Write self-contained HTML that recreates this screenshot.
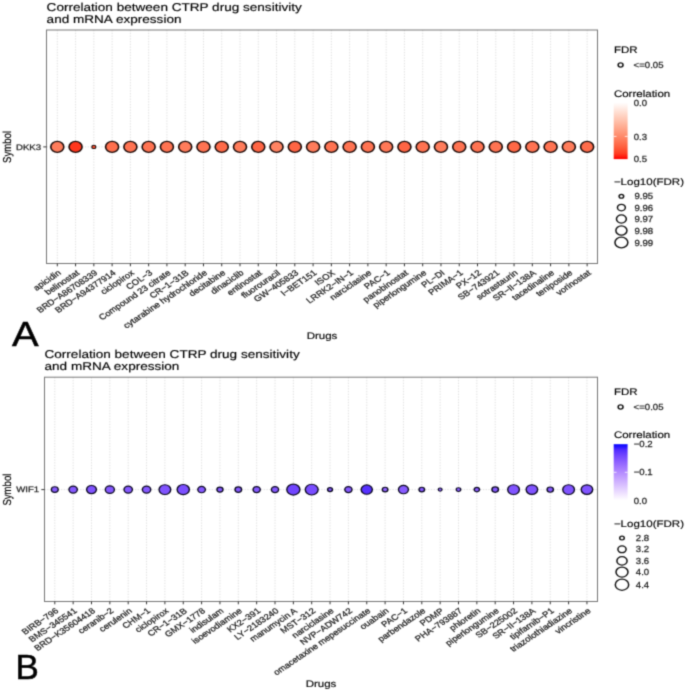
<!DOCTYPE html>
<html><head><meta charset="utf-8"><style>
html,body{margin:0;padding:0;background:#fff;width:685px;height:691px;overflow:hidden}
svg{display:block}
text{text-rendering:geometricPrecision}
.tk{stroke:#222;stroke-width:0.25px}
.tt{stroke:#000;stroke-width:0.15px}
text{font-family:"Liberation Sans", sans-serif}
</style></head><body>
<svg width="685" height="691" viewBox="0 0 685 691">
<defs><filter id="bl" filterUnits="userSpaceOnUse" x="0" y="0" width="685" height="691" color-interpolation-filters="sRGB"><feConvolveMatrix order="3" kernelMatrix="1 4 1 4 16 4 1 4 1" divisor="36" edgeMode="duplicate"/></filter></defs>
<g filter="url(#bl)">
<rect width="685" height="691" fill="#fff"/>
<text class="tt" transform="translate(46.60,10.80) scale(1.2,1)" font-size="11.3" fill="#000" text-anchor="start">Correlation between CTRP drug sensitivity</text>
<text class="tt" transform="translate(46.60,23.40) scale(1.2,1)" font-size="11.3" fill="#000" text-anchor="start">and mRNA expression</text>
<line x1="57.30" y1="30.0" x2="57.30" y2="263.5" stroke="#dcdcdc" stroke-width="0.9" stroke-dasharray="1.37,1.37"/>
<line x1="75.57" y1="30.0" x2="75.57" y2="263.5" stroke="#dcdcdc" stroke-width="0.9" stroke-dasharray="1.37,1.37"/>
<line x1="93.84" y1="30.0" x2="93.84" y2="263.5" stroke="#dcdcdc" stroke-width="0.9" stroke-dasharray="1.37,1.37"/>
<line x1="112.11" y1="30.0" x2="112.11" y2="263.5" stroke="#dcdcdc" stroke-width="0.9" stroke-dasharray="1.37,1.37"/>
<line x1="130.38" y1="30.0" x2="130.38" y2="263.5" stroke="#dcdcdc" stroke-width="0.9" stroke-dasharray="1.37,1.37"/>
<line x1="148.65" y1="30.0" x2="148.65" y2="263.5" stroke="#dcdcdc" stroke-width="0.9" stroke-dasharray="1.37,1.37"/>
<line x1="166.92" y1="30.0" x2="166.92" y2="263.5" stroke="#dcdcdc" stroke-width="0.9" stroke-dasharray="1.37,1.37"/>
<line x1="185.19" y1="30.0" x2="185.19" y2="263.5" stroke="#dcdcdc" stroke-width="0.9" stroke-dasharray="1.37,1.37"/>
<line x1="203.46" y1="30.0" x2="203.46" y2="263.5" stroke="#dcdcdc" stroke-width="0.9" stroke-dasharray="1.37,1.37"/>
<line x1="221.73" y1="30.0" x2="221.73" y2="263.5" stroke="#dcdcdc" stroke-width="0.9" stroke-dasharray="1.37,1.37"/>
<line x1="240.00" y1="30.0" x2="240.00" y2="263.5" stroke="#dcdcdc" stroke-width="0.9" stroke-dasharray="1.37,1.37"/>
<line x1="258.27" y1="30.0" x2="258.27" y2="263.5" stroke="#dcdcdc" stroke-width="0.9" stroke-dasharray="1.37,1.37"/>
<line x1="276.54" y1="30.0" x2="276.54" y2="263.5" stroke="#dcdcdc" stroke-width="0.9" stroke-dasharray="1.37,1.37"/>
<line x1="294.81" y1="30.0" x2="294.81" y2="263.5" stroke="#dcdcdc" stroke-width="0.9" stroke-dasharray="1.37,1.37"/>
<line x1="313.08" y1="30.0" x2="313.08" y2="263.5" stroke="#dcdcdc" stroke-width="0.9" stroke-dasharray="1.37,1.37"/>
<line x1="331.35" y1="30.0" x2="331.35" y2="263.5" stroke="#dcdcdc" stroke-width="0.9" stroke-dasharray="1.37,1.37"/>
<line x1="349.62" y1="30.0" x2="349.62" y2="263.5" stroke="#dcdcdc" stroke-width="0.9" stroke-dasharray="1.37,1.37"/>
<line x1="367.89" y1="30.0" x2="367.89" y2="263.5" stroke="#dcdcdc" stroke-width="0.9" stroke-dasharray="1.37,1.37"/>
<line x1="386.16" y1="30.0" x2="386.16" y2="263.5" stroke="#dcdcdc" stroke-width="0.9" stroke-dasharray="1.37,1.37"/>
<line x1="404.43" y1="30.0" x2="404.43" y2="263.5" stroke="#dcdcdc" stroke-width="0.9" stroke-dasharray="1.37,1.37"/>
<line x1="422.70" y1="30.0" x2="422.70" y2="263.5" stroke="#dcdcdc" stroke-width="0.9" stroke-dasharray="1.37,1.37"/>
<line x1="440.97" y1="30.0" x2="440.97" y2="263.5" stroke="#dcdcdc" stroke-width="0.9" stroke-dasharray="1.37,1.37"/>
<line x1="459.24" y1="30.0" x2="459.24" y2="263.5" stroke="#dcdcdc" stroke-width="0.9" stroke-dasharray="1.37,1.37"/>
<line x1="477.51" y1="30.0" x2="477.51" y2="263.5" stroke="#dcdcdc" stroke-width="0.9" stroke-dasharray="1.37,1.37"/>
<line x1="495.78" y1="30.0" x2="495.78" y2="263.5" stroke="#dcdcdc" stroke-width="0.9" stroke-dasharray="1.37,1.37"/>
<line x1="514.05" y1="30.0" x2="514.05" y2="263.5" stroke="#dcdcdc" stroke-width="0.9" stroke-dasharray="1.37,1.37"/>
<line x1="532.32" y1="30.0" x2="532.32" y2="263.5" stroke="#dcdcdc" stroke-width="0.9" stroke-dasharray="1.37,1.37"/>
<line x1="550.59" y1="30.0" x2="550.59" y2="263.5" stroke="#dcdcdc" stroke-width="0.9" stroke-dasharray="1.37,1.37"/>
<line x1="568.86" y1="30.0" x2="568.86" y2="263.5" stroke="#dcdcdc" stroke-width="0.9" stroke-dasharray="1.37,1.37"/>
<line x1="587.13" y1="30.0" x2="587.13" y2="263.5" stroke="#dcdcdc" stroke-width="0.9" stroke-dasharray="1.37,1.37"/>
<line x1="46.5" y1="146.9" x2="597.5" y2="146.9" stroke="#dcdcdc" stroke-width="0.9" stroke-dasharray="1.37,1.37"/>
<circle transform="translate(57.30,146.90) scale(1.2,1)" r="5.43" fill="#ff7c5b" stroke="#1a0a08" stroke-width="1.3"/>
<circle transform="translate(75.57,146.90) scale(1.2,1)" r="5.43" fill="#ff361c" stroke="#1a0a08" stroke-width="1.3"/>
<circle transform="translate(93.84,146.90) scale(1.2,1)" r="1.67" fill="#ff4d2e" stroke="#1a0a08" stroke-width="1.0"/>
<circle transform="translate(112.11,146.90) scale(1.2,1)" r="5.43" fill="#ff6f4d" stroke="#1a0a08" stroke-width="1.3"/>
<circle transform="translate(130.38,146.90) scale(1.2,1)" r="5.43" fill="#ff7352" stroke="#1a0a08" stroke-width="1.3"/>
<circle transform="translate(148.65,146.90) scale(1.2,1)" r="5.43" fill="#ff7352" stroke="#1a0a08" stroke-width="1.3"/>
<circle transform="translate(166.92,146.90) scale(1.2,1)" r="5.43" fill="#ff7352" stroke="#1a0a08" stroke-width="1.3"/>
<circle transform="translate(185.19,146.90) scale(1.2,1)" r="5.43" fill="#ff7c5b" stroke="#1a0a08" stroke-width="1.3"/>
<circle transform="translate(203.46,146.90) scale(1.2,1)" r="5.43" fill="#ff7352" stroke="#1a0a08" stroke-width="1.3"/>
<circle transform="translate(221.73,146.90) scale(1.2,1)" r="5.43" fill="#ff6a48" stroke="#1a0a08" stroke-width="1.3"/>
<circle transform="translate(240.00,146.90) scale(1.2,1)" r="5.43" fill="#ff7c5b" stroke="#1a0a08" stroke-width="1.3"/>
<circle transform="translate(258.27,146.90) scale(1.2,1)" r="5.43" fill="#ff6544" stroke="#1a0a08" stroke-width="1.3"/>
<circle transform="translate(276.54,146.90) scale(1.2,1)" r="5.43" fill="#ff8362" stroke="#1a0a08" stroke-width="1.3"/>
<circle transform="translate(294.81,146.90) scale(1.2,1)" r="5.43" fill="#ff6544" stroke="#1a0a08" stroke-width="1.3"/>
<circle transform="translate(313.08,146.90) scale(1.2,1)" r="5.43" fill="#ff7c5b" stroke="#1a0a08" stroke-width="1.3"/>
<circle transform="translate(331.35,146.90) scale(1.2,1)" r="5.43" fill="#ff7352" stroke="#1a0a08" stroke-width="1.3"/>
<circle transform="translate(349.62,146.90) scale(1.2,1)" r="5.43" fill="#ff7352" stroke="#1a0a08" stroke-width="1.3"/>
<circle transform="translate(367.89,146.90) scale(1.2,1)" r="5.43" fill="#ff7352" stroke="#1a0a08" stroke-width="1.3"/>
<circle transform="translate(386.16,146.90) scale(1.2,1)" r="5.43" fill="#ff7857" stroke="#1a0a08" stroke-width="1.3"/>
<circle transform="translate(404.43,146.90) scale(1.2,1)" r="5.43" fill="#ff6544" stroke="#1a0a08" stroke-width="1.3"/>
<circle transform="translate(422.70,146.90) scale(1.2,1)" r="5.43" fill="#ff7352" stroke="#1a0a08" stroke-width="1.3"/>
<circle transform="translate(440.97,146.90) scale(1.2,1)" r="5.43" fill="#ff7c5b" stroke="#1a0a08" stroke-width="1.3"/>
<circle transform="translate(459.24,146.90) scale(1.2,1)" r="5.43" fill="#ff7352" stroke="#1a0a08" stroke-width="1.3"/>
<circle transform="translate(477.51,146.90) scale(1.2,1)" r="5.43" fill="#ff7352" stroke="#1a0a08" stroke-width="1.3"/>
<circle transform="translate(495.78,146.90) scale(1.2,1)" r="5.43" fill="#ff7352" stroke="#1a0a08" stroke-width="1.3"/>
<circle transform="translate(514.05,146.90) scale(1.2,1)" r="5.43" fill="#ff6846" stroke="#1a0a08" stroke-width="1.3"/>
<circle transform="translate(532.32,146.90) scale(1.2,1)" r="5.43" fill="#ff7352" stroke="#1a0a08" stroke-width="1.3"/>
<circle transform="translate(550.59,146.90) scale(1.2,1)" r="5.43" fill="#ff7352" stroke="#1a0a08" stroke-width="1.3"/>
<circle transform="translate(568.86,146.90) scale(1.2,1)" r="5.43" fill="#ff7c5b" stroke="#1a0a08" stroke-width="1.3"/>
<circle transform="translate(587.13,146.90) scale(1.2,1)" r="5.43" fill="#ff6c4b" stroke="#1a0a08" stroke-width="1.3"/>
<rect x="46.5" y="30.0" width="551.0" height="233.5" fill="none" stroke="#777" stroke-width="1.0"/>
<line x1="57.30" y1="263.5" x2="57.30" y2="266.3" stroke="#333" stroke-width="1"/>
<line x1="75.57" y1="263.5" x2="75.57" y2="266.3" stroke="#333" stroke-width="1"/>
<line x1="93.84" y1="263.5" x2="93.84" y2="266.3" stroke="#333" stroke-width="1"/>
<line x1="112.11" y1="263.5" x2="112.11" y2="266.3" stroke="#333" stroke-width="1"/>
<line x1="130.38" y1="263.5" x2="130.38" y2="266.3" stroke="#333" stroke-width="1"/>
<line x1="148.65" y1="263.5" x2="148.65" y2="266.3" stroke="#333" stroke-width="1"/>
<line x1="166.92" y1="263.5" x2="166.92" y2="266.3" stroke="#333" stroke-width="1"/>
<line x1="185.19" y1="263.5" x2="185.19" y2="266.3" stroke="#333" stroke-width="1"/>
<line x1="203.46" y1="263.5" x2="203.46" y2="266.3" stroke="#333" stroke-width="1"/>
<line x1="221.73" y1="263.5" x2="221.73" y2="266.3" stroke="#333" stroke-width="1"/>
<line x1="240.00" y1="263.5" x2="240.00" y2="266.3" stroke="#333" stroke-width="1"/>
<line x1="258.27" y1="263.5" x2="258.27" y2="266.3" stroke="#333" stroke-width="1"/>
<line x1="276.54" y1="263.5" x2="276.54" y2="266.3" stroke="#333" stroke-width="1"/>
<line x1="294.81" y1="263.5" x2="294.81" y2="266.3" stroke="#333" stroke-width="1"/>
<line x1="313.08" y1="263.5" x2="313.08" y2="266.3" stroke="#333" stroke-width="1"/>
<line x1="331.35" y1="263.5" x2="331.35" y2="266.3" stroke="#333" stroke-width="1"/>
<line x1="349.62" y1="263.5" x2="349.62" y2="266.3" stroke="#333" stroke-width="1"/>
<line x1="367.89" y1="263.5" x2="367.89" y2="266.3" stroke="#333" stroke-width="1"/>
<line x1="386.16" y1="263.5" x2="386.16" y2="266.3" stroke="#333" stroke-width="1"/>
<line x1="404.43" y1="263.5" x2="404.43" y2="266.3" stroke="#333" stroke-width="1"/>
<line x1="422.70" y1="263.5" x2="422.70" y2="266.3" stroke="#333" stroke-width="1"/>
<line x1="440.97" y1="263.5" x2="440.97" y2="266.3" stroke="#333" stroke-width="1"/>
<line x1="459.24" y1="263.5" x2="459.24" y2="266.3" stroke="#333" stroke-width="1"/>
<line x1="477.51" y1="263.5" x2="477.51" y2="266.3" stroke="#333" stroke-width="1"/>
<line x1="495.78" y1="263.5" x2="495.78" y2="266.3" stroke="#333" stroke-width="1"/>
<line x1="514.05" y1="263.5" x2="514.05" y2="266.3" stroke="#333" stroke-width="1"/>
<line x1="532.32" y1="263.5" x2="532.32" y2="266.3" stroke="#333" stroke-width="1"/>
<line x1="550.59" y1="263.5" x2="550.59" y2="266.3" stroke="#333" stroke-width="1"/>
<line x1="568.86" y1="263.5" x2="568.86" y2="266.3" stroke="#333" stroke-width="1"/>
<line x1="587.13" y1="263.5" x2="587.13" y2="266.3" stroke="#333" stroke-width="1"/>
<line x1="43.3" y1="146.9" x2="46.5" y2="146.9" stroke="#333" stroke-width="1"/>
<text class="tk" transform="translate(41.10,149.70) scale(1.2,1)" font-size="8.0" fill="#222" text-anchor="end">DKK3</text>
<text class="tt" transform="translate(10.5,146.9) scale(1.2,1) rotate(-90)" font-size="9.6" fill="#000" text-anchor="middle">Symbol</text>
<text class="tk" transform="translate(57.30,269.30) scale(1.2,1) rotate(-39.0)" font-size="8" fill="#222" text-anchor="end" dy="5.8">apicidin</text>
<text class="tk" transform="translate(75.57,269.30) scale(1.2,1) rotate(-39.0)" font-size="8" fill="#222" text-anchor="end" dy="5.8">belinostat</text>
<text class="tk" transform="translate(93.84,269.30) scale(1.2,1) rotate(-39.0)" font-size="8" fill="#222" text-anchor="end" dy="5.8">BRD−A86708339</text>
<text class="tk" transform="translate(112.11,269.30) scale(1.2,1) rotate(-39.0)" font-size="8" fill="#222" text-anchor="end" dy="5.8">BRD−A94377914</text>
<text class="tk" transform="translate(130.38,269.30) scale(1.2,1) rotate(-39.0)" font-size="8" fill="#222" text-anchor="end" dy="5.8">ciclopirox</text>
<text class="tk" transform="translate(148.65,269.30) scale(1.2,1) rotate(-39.0)" font-size="8" fill="#222" text-anchor="end" dy="5.8">COL−3</text>
<text class="tk" transform="translate(166.92,269.30) scale(1.2,1) rotate(-39.0)" font-size="8" fill="#222" text-anchor="end" dy="5.8">Compound 23 citrate</text>
<text class="tk" transform="translate(185.19,269.30) scale(1.2,1) rotate(-39.0)" font-size="8" fill="#222" text-anchor="end" dy="5.8">CR−1−31B</text>
<text class="tk" transform="translate(203.46,269.30) scale(1.2,1) rotate(-39.0)" font-size="8" fill="#222" text-anchor="end" dy="5.8">cytarabine hydrochloride</text>
<text class="tk" transform="translate(221.73,269.30) scale(1.2,1) rotate(-39.0)" font-size="8" fill="#222" text-anchor="end" dy="5.8">decitabine</text>
<text class="tk" transform="translate(240.00,269.30) scale(1.2,1) rotate(-39.0)" font-size="8" fill="#222" text-anchor="end" dy="5.8">dinaciclib</text>
<text class="tk" transform="translate(258.27,269.30) scale(1.2,1) rotate(-39.0)" font-size="8" fill="#222" text-anchor="end" dy="5.8">entinostat</text>
<text class="tk" transform="translate(276.54,269.30) scale(1.2,1) rotate(-39.0)" font-size="8" fill="#222" text-anchor="end" dy="5.8">fluorouracil</text>
<text class="tk" transform="translate(294.81,269.30) scale(1.2,1) rotate(-39.0)" font-size="8" fill="#222" text-anchor="end" dy="5.8">GW−405833</text>
<text class="tk" transform="translate(313.08,269.30) scale(1.2,1) rotate(-39.0)" font-size="8" fill="#222" text-anchor="end" dy="5.8">I−BET151</text>
<text class="tk" transform="translate(331.35,269.30) scale(1.2,1) rotate(-39.0)" font-size="8" fill="#222" text-anchor="end" dy="5.8">ISOX</text>
<text class="tk" transform="translate(349.62,269.30) scale(1.2,1) rotate(-39.0)" font-size="8" fill="#222" text-anchor="end" dy="5.8">LRRK2−IN−1</text>
<text class="tk" transform="translate(367.89,269.30) scale(1.2,1) rotate(-39.0)" font-size="8" fill="#222" text-anchor="end" dy="5.8">narciclasine</text>
<text class="tk" transform="translate(386.16,269.30) scale(1.2,1) rotate(-39.0)" font-size="8" fill="#222" text-anchor="end" dy="5.8">PAC−1</text>
<text class="tk" transform="translate(404.43,269.30) scale(1.2,1) rotate(-39.0)" font-size="8" fill="#222" text-anchor="end" dy="5.8">panobinostat</text>
<text class="tk" transform="translate(422.70,269.30) scale(1.2,1) rotate(-39.0)" font-size="8" fill="#222" text-anchor="end" dy="5.8">piperlongumine</text>
<text class="tk" transform="translate(440.97,269.30) scale(1.2,1) rotate(-39.0)" font-size="8" fill="#222" text-anchor="end" dy="5.8">PL−DI</text>
<text class="tk" transform="translate(459.24,269.30) scale(1.2,1) rotate(-39.0)" font-size="8" fill="#222" text-anchor="end" dy="5.8">PRIMA−1</text>
<text class="tk" transform="translate(477.51,269.30) scale(1.2,1) rotate(-39.0)" font-size="8" fill="#222" text-anchor="end" dy="5.8">PX−12</text>
<text class="tk" transform="translate(495.78,269.30) scale(1.2,1) rotate(-39.0)" font-size="8" fill="#222" text-anchor="end" dy="5.8">SB−743921</text>
<text class="tk" transform="translate(514.05,269.30) scale(1.2,1) rotate(-39.0)" font-size="8" fill="#222" text-anchor="end" dy="5.8">sotrastaurin</text>
<text class="tk" transform="translate(532.32,269.30) scale(1.2,1) rotate(-39.0)" font-size="8" fill="#222" text-anchor="end" dy="5.8">SR−II−138A</text>
<text class="tk" transform="translate(550.59,269.30) scale(1.2,1) rotate(-39.0)" font-size="8" fill="#222" text-anchor="end" dy="5.8">tacedinaline</text>
<text class="tk" transform="translate(568.86,269.30) scale(1.2,1) rotate(-39.0)" font-size="8" fill="#222" text-anchor="end" dy="5.8">teniposide</text>
<text class="tk" transform="translate(587.13,269.30) scale(1.2,1) rotate(-39.0)" font-size="8" fill="#222" text-anchor="end" dy="5.8">vorinostat</text>
<text class="tt" transform="translate(322.00,339.40) scale(1.2,1)" font-size="9.6" fill="#000" text-anchor="middle">Drugs</text>
<text class="tt" transform="translate(613.90,53.00) scale(1.2,1)" font-size="9.6" fill="#000" text-anchor="start">FDR</text>
<circle transform="translate(620.60,65.00) scale(1.2,1)" r="2.04" fill="none" stroke="#111" stroke-width="1.25"/>
<text class="tk" transform="translate(633.60,68.15) scale(1.09,1)" font-size="8.8" fill="#222" text-anchor="start">&lt;=0.05</text>
<text class="tt" transform="translate(613.90,96.90) scale(1.2,1)" font-size="9.6" fill="#000" text-anchor="start">Correlation</text>
<defs><linearGradient id="ga" x1="0" y1="0" x2="0" y2="1"><stop offset="0.00" stop-color="#ffffff"/><stop offset="0.10" stop-color="#ffece5"/><stop offset="0.20" stop-color="#ffd9cb"/><stop offset="0.30" stop-color="#ffc6b2"/><stop offset="0.40" stop-color="#ffb299"/><stop offset="0.50" stop-color="#ff9e81"/><stop offset="0.60" stop-color="#ff8969"/><stop offset="0.70" stop-color="#ff7352"/><stop offset="0.80" stop-color="#ff5b3a"/><stop offset="0.90" stop-color="#ff3e22"/><stop offset="1.00" stop-color="#ff0000"/></linearGradient></defs>
<rect x="613.7" y="102.4" width="13.9" height="56.69999999999999" fill="url(#ga)"/>
<text class="tk" transform="translate(633.70,105.55) scale(1.09,1)" font-size="8.8" fill="#222" text-anchor="start">0.0</text>
<text class="tk" transform="translate(633.70,139.55) scale(1.09,1)" font-size="8.8" fill="#222" text-anchor="start">0.3</text>
<text class="tk" transform="translate(633.70,162.25) scale(1.09,1)" font-size="8.8" fill="#222" text-anchor="start">0.5</text>
<line x1="613.7" y1="136.4" x2="616.5" y2="136.4" stroke="#fff" stroke-width="0.8"/>
<line x1="624.8" y1="136.4" x2="627.6" y2="136.4" stroke="#fff" stroke-width="0.8"/>
<text class="tt" transform="translate(613.90,185.20) scale(1.2,1)" font-size="9.6" fill="#000" text-anchor="start">−Log10(FDR)</text>
<circle transform="translate(621.40,196.30) scale(1.2,1)" r="1.92" fill="none" stroke="#111" stroke-width="1.25"/>
<text class="tk" transform="translate(634.50,199.45) scale(1.09,1)" font-size="8.8" fill="#222" text-anchor="start">9.95</text>
<circle transform="translate(621.40,207.60) scale(1.2,1)" r="3.29" fill="none" stroke="#111" stroke-width="1.25"/>
<text class="tk" transform="translate(634.50,210.75) scale(1.09,1)" font-size="8.8" fill="#222" text-anchor="start">9.96</text>
<circle transform="translate(621.40,219.00) scale(1.2,1)" r="4.12" fill="none" stroke="#111" stroke-width="1.25"/>
<text class="tk" transform="translate(634.50,222.15) scale(1.09,1)" font-size="8.8" fill="#222" text-anchor="start">9.97</text>
<circle transform="translate(621.40,230.50) scale(1.2,1)" r="4.62" fill="none" stroke="#111" stroke-width="1.25"/>
<text class="tk" transform="translate(634.50,233.65) scale(1.09,1)" font-size="8.8" fill="#222" text-anchor="start">9.98</text>
<circle transform="translate(621.40,242.50) scale(1.2,1)" r="5.38" fill="none" stroke="#111" stroke-width="1.25"/>
<text class="tk" transform="translate(634.50,245.65) scale(1.09,1)" font-size="8.8" fill="#222" text-anchor="start">9.99</text>
<text class="tt" transform="translate(44.50,358.00) scale(1.2,1)" font-size="11.3" fill="#000" text-anchor="start">Correlation between CTRP drug sensitivity</text>
<text class="tt" transform="translate(44.50,370.00) scale(1.2,1)" font-size="11.3" fill="#000" text-anchor="start">and mRNA expression</text>
<line x1="54.80" y1="377.2" x2="54.80" y2="601.5" stroke="#dcdcdc" stroke-width="0.9" stroke-dasharray="1.37,1.37"/>
<line x1="73.15" y1="377.2" x2="73.15" y2="601.5" stroke="#dcdcdc" stroke-width="0.9" stroke-dasharray="1.37,1.37"/>
<line x1="91.50" y1="377.2" x2="91.50" y2="601.5" stroke="#dcdcdc" stroke-width="0.9" stroke-dasharray="1.37,1.37"/>
<line x1="109.85" y1="377.2" x2="109.85" y2="601.5" stroke="#dcdcdc" stroke-width="0.9" stroke-dasharray="1.37,1.37"/>
<line x1="128.20" y1="377.2" x2="128.20" y2="601.5" stroke="#dcdcdc" stroke-width="0.9" stroke-dasharray="1.37,1.37"/>
<line x1="146.55" y1="377.2" x2="146.55" y2="601.5" stroke="#dcdcdc" stroke-width="0.9" stroke-dasharray="1.37,1.37"/>
<line x1="164.90" y1="377.2" x2="164.90" y2="601.5" stroke="#dcdcdc" stroke-width="0.9" stroke-dasharray="1.37,1.37"/>
<line x1="183.25" y1="377.2" x2="183.25" y2="601.5" stroke="#dcdcdc" stroke-width="0.9" stroke-dasharray="1.37,1.37"/>
<line x1="201.60" y1="377.2" x2="201.60" y2="601.5" stroke="#dcdcdc" stroke-width="0.9" stroke-dasharray="1.37,1.37"/>
<line x1="219.95" y1="377.2" x2="219.95" y2="601.5" stroke="#dcdcdc" stroke-width="0.9" stroke-dasharray="1.37,1.37"/>
<line x1="238.30" y1="377.2" x2="238.30" y2="601.5" stroke="#dcdcdc" stroke-width="0.9" stroke-dasharray="1.37,1.37"/>
<line x1="256.65" y1="377.2" x2="256.65" y2="601.5" stroke="#dcdcdc" stroke-width="0.9" stroke-dasharray="1.37,1.37"/>
<line x1="275.00" y1="377.2" x2="275.00" y2="601.5" stroke="#dcdcdc" stroke-width="0.9" stroke-dasharray="1.37,1.37"/>
<line x1="293.35" y1="377.2" x2="293.35" y2="601.5" stroke="#dcdcdc" stroke-width="0.9" stroke-dasharray="1.37,1.37"/>
<line x1="311.70" y1="377.2" x2="311.70" y2="601.5" stroke="#dcdcdc" stroke-width="0.9" stroke-dasharray="1.37,1.37"/>
<line x1="330.05" y1="377.2" x2="330.05" y2="601.5" stroke="#dcdcdc" stroke-width="0.9" stroke-dasharray="1.37,1.37"/>
<line x1="348.40" y1="377.2" x2="348.40" y2="601.5" stroke="#dcdcdc" stroke-width="0.9" stroke-dasharray="1.37,1.37"/>
<line x1="366.75" y1="377.2" x2="366.75" y2="601.5" stroke="#dcdcdc" stroke-width="0.9" stroke-dasharray="1.37,1.37"/>
<line x1="385.10" y1="377.2" x2="385.10" y2="601.5" stroke="#dcdcdc" stroke-width="0.9" stroke-dasharray="1.37,1.37"/>
<line x1="403.45" y1="377.2" x2="403.45" y2="601.5" stroke="#dcdcdc" stroke-width="0.9" stroke-dasharray="1.37,1.37"/>
<line x1="421.80" y1="377.2" x2="421.80" y2="601.5" stroke="#dcdcdc" stroke-width="0.9" stroke-dasharray="1.37,1.37"/>
<line x1="440.15" y1="377.2" x2="440.15" y2="601.5" stroke="#dcdcdc" stroke-width="0.9" stroke-dasharray="1.37,1.37"/>
<line x1="458.50" y1="377.2" x2="458.50" y2="601.5" stroke="#dcdcdc" stroke-width="0.9" stroke-dasharray="1.37,1.37"/>
<line x1="476.85" y1="377.2" x2="476.85" y2="601.5" stroke="#dcdcdc" stroke-width="0.9" stroke-dasharray="1.37,1.37"/>
<line x1="495.20" y1="377.2" x2="495.20" y2="601.5" stroke="#dcdcdc" stroke-width="0.9" stroke-dasharray="1.37,1.37"/>
<line x1="513.55" y1="377.2" x2="513.55" y2="601.5" stroke="#dcdcdc" stroke-width="0.9" stroke-dasharray="1.37,1.37"/>
<line x1="531.90" y1="377.2" x2="531.90" y2="601.5" stroke="#dcdcdc" stroke-width="0.9" stroke-dasharray="1.37,1.37"/>
<line x1="550.25" y1="377.2" x2="550.25" y2="601.5" stroke="#dcdcdc" stroke-width="0.9" stroke-dasharray="1.37,1.37"/>
<line x1="568.60" y1="377.2" x2="568.60" y2="601.5" stroke="#dcdcdc" stroke-width="0.9" stroke-dasharray="1.37,1.37"/>
<line x1="586.95" y1="377.2" x2="586.95" y2="601.5" stroke="#dcdcdc" stroke-width="0.9" stroke-dasharray="1.37,1.37"/>
<line x1="44.5" y1="489.6" x2="597.5" y2="489.6" stroke="#dcdcdc" stroke-width="0.9" stroke-dasharray="1.37,1.37"/>
<circle transform="translate(54.80,489.60) scale(1.2,1)" r="2.84" fill="#8a5dff" stroke="#0a0820" stroke-width="1.15"/>
<circle transform="translate(73.15,489.60) scale(1.2,1)" r="3.51" fill="#8659ff" stroke="#0a0820" stroke-width="1.15"/>
<circle transform="translate(91.50,489.60) scale(1.2,1)" r="4.09" fill="#8154ff" stroke="#0a0820" stroke-width="1.15"/>
<circle transform="translate(109.85,489.60) scale(1.2,1)" r="3.80" fill="#8659ff" stroke="#0a0820" stroke-width="1.15"/>
<circle transform="translate(128.20,489.60) scale(1.2,1)" r="3.51" fill="#8659ff" stroke="#0a0820" stroke-width="1.15"/>
<circle transform="translate(146.55,489.60) scale(1.2,1)" r="3.51" fill="#8659ff" stroke="#0a0820" stroke-width="1.15"/>
<circle transform="translate(164.90,489.60) scale(1.2,1)" r="4.88" fill="#8154ff" stroke="#0a0820" stroke-width="1.15"/>
<circle transform="translate(183.25,489.60) scale(1.2,1)" r="5.09" fill="#7c4fff" stroke="#0a0820" stroke-width="1.15"/>
<circle transform="translate(201.60,489.60) scale(1.2,1)" r="3.17" fill="#8659ff" stroke="#0a0820" stroke-width="1.15"/>
<circle transform="translate(219.95,489.60) scale(1.2,1)" r="2.55" fill="#8659ff" stroke="#0a0820" stroke-width="1.15"/>
<circle transform="translate(238.30,489.60) scale(1.2,1)" r="2.76" fill="#8659ff" stroke="#0a0820" stroke-width="1.15"/>
<circle transform="translate(256.65,489.60) scale(1.2,1)" r="3.01" fill="#8659ff" stroke="#0a0820" stroke-width="1.15"/>
<circle transform="translate(275.00,489.60) scale(1.2,1)" r="3.01" fill="#8659ff" stroke="#0a0820" stroke-width="1.15"/>
<circle transform="translate(293.35,489.60) scale(1.2,1)" r="5.47" fill="#7145ff" stroke="#0a0820" stroke-width="1.15"/>
<circle transform="translate(311.70,489.60) scale(1.2,1)" r="5.38" fill="#794dff" stroke="#0a0820" stroke-width="1.15"/>
<circle transform="translate(330.05,489.60) scale(1.2,1)" r="2.05" fill="#8659ff" stroke="#0a0820" stroke-width="1.15"/>
<circle transform="translate(348.40,489.60) scale(1.2,1)" r="3.01" fill="#8659ff" stroke="#0a0820" stroke-width="1.15"/>
<circle transform="translate(366.75,489.60) scale(1.2,1)" r="4.67" fill="#5731ff" stroke="#0a0820" stroke-width="1.15"/>
<circle transform="translate(385.10,489.60) scale(1.2,1)" r="2.34" fill="#9164ff" stroke="#0a0820" stroke-width="1.15"/>
<circle transform="translate(403.45,489.60) scale(1.2,1)" r="4.17" fill="#885bff" stroke="#0a0820" stroke-width="1.15"/>
<circle transform="translate(421.80,489.60) scale(1.2,1)" r="2.34" fill="#8659ff" stroke="#0a0820" stroke-width="1.15"/>
<circle transform="translate(440.15,489.60) scale(1.2,1)" r="1.62" fill="#8a5dff" stroke="#0a0820" stroke-width="1.0"/>
<circle transform="translate(458.50,489.60) scale(1.2,1)" r="1.92" fill="#8a5dff" stroke="#0a0820" stroke-width="1.0"/>
<circle transform="translate(476.85,489.60) scale(1.2,1)" r="2.26" fill="#8a5dff" stroke="#0a0820" stroke-width="1.15"/>
<circle transform="translate(495.20,489.60) scale(1.2,1)" r="2.72" fill="#8659ff" stroke="#0a0820" stroke-width="1.15"/>
<circle transform="translate(513.55,489.60) scale(1.2,1)" r="4.88" fill="#8154ff" stroke="#0a0820" stroke-width="1.15"/>
<circle transform="translate(531.90,489.60) scale(1.2,1)" r="4.80" fill="#8154ff" stroke="#0a0820" stroke-width="1.15"/>
<circle transform="translate(550.25,489.60) scale(1.2,1)" r="2.63" fill="#8659ff" stroke="#0a0820" stroke-width="1.15"/>
<circle transform="translate(568.60,489.60) scale(1.2,1)" r="4.88" fill="#8154ff" stroke="#0a0820" stroke-width="1.15"/>
<circle transform="translate(586.95,489.60) scale(1.2,1)" r="4.80" fill="#8154ff" stroke="#0a0820" stroke-width="1.15"/>
<rect x="44.5" y="377.2" width="553.0" height="224.3" fill="none" stroke="#777" stroke-width="1.0"/>
<line x1="54.80" y1="601.5" x2="54.80" y2="604.3" stroke="#333" stroke-width="1"/>
<line x1="73.15" y1="601.5" x2="73.15" y2="604.3" stroke="#333" stroke-width="1"/>
<line x1="91.50" y1="601.5" x2="91.50" y2="604.3" stroke="#333" stroke-width="1"/>
<line x1="109.85" y1="601.5" x2="109.85" y2="604.3" stroke="#333" stroke-width="1"/>
<line x1="128.20" y1="601.5" x2="128.20" y2="604.3" stroke="#333" stroke-width="1"/>
<line x1="146.55" y1="601.5" x2="146.55" y2="604.3" stroke="#333" stroke-width="1"/>
<line x1="164.90" y1="601.5" x2="164.90" y2="604.3" stroke="#333" stroke-width="1"/>
<line x1="183.25" y1="601.5" x2="183.25" y2="604.3" stroke="#333" stroke-width="1"/>
<line x1="201.60" y1="601.5" x2="201.60" y2="604.3" stroke="#333" stroke-width="1"/>
<line x1="219.95" y1="601.5" x2="219.95" y2="604.3" stroke="#333" stroke-width="1"/>
<line x1="238.30" y1="601.5" x2="238.30" y2="604.3" stroke="#333" stroke-width="1"/>
<line x1="256.65" y1="601.5" x2="256.65" y2="604.3" stroke="#333" stroke-width="1"/>
<line x1="275.00" y1="601.5" x2="275.00" y2="604.3" stroke="#333" stroke-width="1"/>
<line x1="293.35" y1="601.5" x2="293.35" y2="604.3" stroke="#333" stroke-width="1"/>
<line x1="311.70" y1="601.5" x2="311.70" y2="604.3" stroke="#333" stroke-width="1"/>
<line x1="330.05" y1="601.5" x2="330.05" y2="604.3" stroke="#333" stroke-width="1"/>
<line x1="348.40" y1="601.5" x2="348.40" y2="604.3" stroke="#333" stroke-width="1"/>
<line x1="366.75" y1="601.5" x2="366.75" y2="604.3" stroke="#333" stroke-width="1"/>
<line x1="385.10" y1="601.5" x2="385.10" y2="604.3" stroke="#333" stroke-width="1"/>
<line x1="403.45" y1="601.5" x2="403.45" y2="604.3" stroke="#333" stroke-width="1"/>
<line x1="421.80" y1="601.5" x2="421.80" y2="604.3" stroke="#333" stroke-width="1"/>
<line x1="440.15" y1="601.5" x2="440.15" y2="604.3" stroke="#333" stroke-width="1"/>
<line x1="458.50" y1="601.5" x2="458.50" y2="604.3" stroke="#333" stroke-width="1"/>
<line x1="476.85" y1="601.5" x2="476.85" y2="604.3" stroke="#333" stroke-width="1"/>
<line x1="495.20" y1="601.5" x2="495.20" y2="604.3" stroke="#333" stroke-width="1"/>
<line x1="513.55" y1="601.5" x2="513.55" y2="604.3" stroke="#333" stroke-width="1"/>
<line x1="531.90" y1="601.5" x2="531.90" y2="604.3" stroke="#333" stroke-width="1"/>
<line x1="550.25" y1="601.5" x2="550.25" y2="604.3" stroke="#333" stroke-width="1"/>
<line x1="568.60" y1="601.5" x2="568.60" y2="604.3" stroke="#333" stroke-width="1"/>
<line x1="586.95" y1="601.5" x2="586.95" y2="604.3" stroke="#333" stroke-width="1"/>
<line x1="41.3" y1="489.6" x2="44.5" y2="489.6" stroke="#333" stroke-width="1"/>
<text class="tk" transform="translate(39.20,491.80) scale(1.2,1)" font-size="8.0" fill="#222" text-anchor="end">WIF1</text>
<text class="tt" transform="translate(10.7,489.6) scale(1.2,1) rotate(-90)" font-size="9.6" fill="#000" text-anchor="middle">Symbol</text>
<text class="tk" transform="translate(54.80,607.30) scale(1.2,1) rotate(-39.0)" font-size="8" fill="#222" text-anchor="end" dy="5.8">BIRB−796</text>
<text class="tk" transform="translate(73.15,607.30) scale(1.2,1) rotate(-39.0)" font-size="8" fill="#222" text-anchor="end" dy="5.8">BMS−345541</text>
<text class="tk" transform="translate(91.50,607.30) scale(1.2,1) rotate(-39.0)" font-size="8" fill="#222" text-anchor="end" dy="5.8">BRD−K35604418</text>
<text class="tk" transform="translate(109.85,607.30) scale(1.2,1) rotate(-39.0)" font-size="8" fill="#222" text-anchor="end" dy="5.8">ceranib−2</text>
<text class="tk" transform="translate(128.20,607.30) scale(1.2,1) rotate(-39.0)" font-size="8" fill="#222" text-anchor="end" dy="5.8">cerulenin</text>
<text class="tk" transform="translate(146.55,607.30) scale(1.2,1) rotate(-39.0)" font-size="8" fill="#222" text-anchor="end" dy="5.8">CHM−1</text>
<text class="tk" transform="translate(164.90,607.30) scale(1.2,1) rotate(-39.0)" font-size="8" fill="#222" text-anchor="end" dy="5.8">ciclopirox</text>
<text class="tk" transform="translate(183.25,607.30) scale(1.2,1) rotate(-39.0)" font-size="8" fill="#222" text-anchor="end" dy="5.8">CR−1−31B</text>
<text class="tk" transform="translate(201.60,607.30) scale(1.2,1) rotate(-39.0)" font-size="8" fill="#222" text-anchor="end" dy="5.8">GMX−1778</text>
<text class="tk" transform="translate(219.95,607.30) scale(1.2,1) rotate(-39.0)" font-size="8" fill="#222" text-anchor="end" dy="5.8">indisulam</text>
<text class="tk" transform="translate(238.30,607.30) scale(1.2,1) rotate(-39.0)" font-size="8" fill="#222" text-anchor="end" dy="5.8">isoevodiamine</text>
<text class="tk" transform="translate(256.65,607.30) scale(1.2,1) rotate(-39.0)" font-size="8" fill="#222" text-anchor="end" dy="5.8">KX2−391</text>
<text class="tk" transform="translate(275.00,607.30) scale(1.2,1) rotate(-39.0)" font-size="8" fill="#222" text-anchor="end" dy="5.8">LY−2183240</text>
<text class="tk" transform="translate(293.35,607.30) scale(1.2,1) rotate(-39.0)" font-size="8" fill="#222" text-anchor="end" dy="5.8">manumycin A</text>
<text class="tk" transform="translate(311.70,607.30) scale(1.2,1) rotate(-39.0)" font-size="8" fill="#222" text-anchor="end" dy="5.8">MST−312</text>
<text class="tk" transform="translate(330.05,607.30) scale(1.2,1) rotate(-39.0)" font-size="8" fill="#222" text-anchor="end" dy="5.8">narciclasine</text>
<text class="tk" transform="translate(348.40,607.30) scale(1.2,1) rotate(-39.0)" font-size="8" fill="#222" text-anchor="end" dy="5.8">NVP−ADW742</text>
<text class="tk" transform="translate(366.75,607.30) scale(1.2,1) rotate(-39.0)" font-size="8" fill="#222" text-anchor="end" dy="5.8">omacetaxine mepesuccinate</text>
<text class="tk" transform="translate(385.10,607.30) scale(1.2,1) rotate(-39.0)" font-size="8" fill="#222" text-anchor="end" dy="5.8">ouabain</text>
<text class="tk" transform="translate(403.45,607.30) scale(1.2,1) rotate(-39.0)" font-size="8" fill="#222" text-anchor="end" dy="5.8">PAC−1</text>
<text class="tk" transform="translate(421.80,607.30) scale(1.2,1) rotate(-39.0)" font-size="8" fill="#222" text-anchor="end" dy="5.8">parbendazole</text>
<text class="tk" transform="translate(440.15,607.30) scale(1.2,1) rotate(-39.0)" font-size="8" fill="#222" text-anchor="end" dy="5.8">PDMP</text>
<text class="tk" transform="translate(458.50,607.30) scale(1.2,1) rotate(-39.0)" font-size="8" fill="#222" text-anchor="end" dy="5.8">PHA−793887</text>
<text class="tk" transform="translate(476.85,607.30) scale(1.2,1) rotate(-39.0)" font-size="8" fill="#222" text-anchor="end" dy="5.8">phloretin</text>
<text class="tk" transform="translate(495.20,607.30) scale(1.2,1) rotate(-39.0)" font-size="8" fill="#222" text-anchor="end" dy="5.8">piperlongumine</text>
<text class="tk" transform="translate(513.55,607.30) scale(1.2,1) rotate(-39.0)" font-size="8" fill="#222" text-anchor="end" dy="5.8">SB−225002</text>
<text class="tk" transform="translate(531.90,607.30) scale(1.2,1) rotate(-39.0)" font-size="8" fill="#222" text-anchor="end" dy="5.8">SR−II−138A</text>
<text class="tk" transform="translate(550.25,607.30) scale(1.2,1) rotate(-39.0)" font-size="8" fill="#222" text-anchor="end" dy="5.8">tipifarnib−P1</text>
<text class="tk" transform="translate(568.60,607.30) scale(1.2,1) rotate(-39.0)" font-size="8" fill="#222" text-anchor="end" dy="5.8">triazolothiadiazine</text>
<text class="tk" transform="translate(586.95,607.30) scale(1.2,1) rotate(-39.0)" font-size="8" fill="#222" text-anchor="end" dy="5.8">vincristine</text>
<text class="tt" transform="translate(321.00,686.60) scale(1.2,1)" font-size="9.6" fill="#000" text-anchor="middle">Drugs</text>
<text class="tt" transform="translate(613.90,395.20) scale(1.2,1)" font-size="9.6" fill="#000" text-anchor="start">FDR</text>
<circle transform="translate(620.60,407.00) scale(1.2,1)" r="2.04" fill="none" stroke="#111" stroke-width="1.25"/>
<text class="tk" transform="translate(633.60,410.15) scale(1.09,1)" font-size="8.8" fill="#222" text-anchor="start">&lt;=0.05</text>
<text class="tt" transform="translate(613.90,438.00) scale(1.2,1)" font-size="9.6" fill="#000" text-anchor="start">Correlation</text>
<defs><linearGradient id="gb" x1="0" y1="0" x2="0" y2="1"><stop offset="0.00" stop-color="#0000ff"/><stop offset="0.10" stop-color="#502bff"/><stop offset="0.20" stop-color="#7145ff"/><stop offset="0.30" stop-color="#8a5dff"/><stop offset="0.40" stop-color="#a074ff"/><stop offset="0.50" stop-color="#b38bff"/><stop offset="0.60" stop-color="#c4a2ff"/><stop offset="0.70" stop-color="#d4b9ff"/><stop offset="0.80" stop-color="#e3d0ff"/><stop offset="0.90" stop-color="#f2e7ff"/><stop offset="1.00" stop-color="#ffffff"/></linearGradient></defs>
<rect x="613.7" y="444.2" width="13.9" height="56.10000000000002" fill="url(#gb)"/>
<text class="tk" transform="translate(633.70,447.45) scale(1.09,1)" font-size="8.8" fill="#222" text-anchor="start">−0.2</text>
<text class="tk" transform="translate(633.70,475.45) scale(1.09,1)" font-size="8.8" fill="#222" text-anchor="start">−0.1</text>
<text class="tk" transform="translate(633.70,503.75) scale(1.09,1)" font-size="8.8" fill="#222" text-anchor="start">0.0</text>
<line x1="613.7" y1="472.3" x2="616.5" y2="472.3" stroke="#fff" stroke-width="0.8"/>
<line x1="624.8" y1="472.3" x2="627.6" y2="472.3" stroke="#fff" stroke-width="0.8"/>
<text class="tt" transform="translate(613.90,526.50) scale(1.2,1)" font-size="9.6" fill="#000" text-anchor="start">−Log10(FDR)</text>
<circle transform="translate(622.00,538.00) scale(1.2,1)" r="1.88" fill="none" stroke="#111" stroke-width="1.25"/>
<text class="tk" transform="translate(635.80,541.15) scale(1.09,1)" font-size="8.8" fill="#222" text-anchor="start">2.8</text>
<circle transform="translate(622.00,549.30) scale(1.2,1)" r="3.42" fill="none" stroke="#111" stroke-width="1.25"/>
<text class="tk" transform="translate(635.80,552.45) scale(1.09,1)" font-size="8.8" fill="#222" text-anchor="start">3.2</text>
<circle transform="translate(622.00,560.90) scale(1.2,1)" r="4.25" fill="none" stroke="#111" stroke-width="1.25"/>
<text class="tk" transform="translate(635.80,564.05) scale(1.09,1)" font-size="8.8" fill="#222" text-anchor="start">3.6</text>
<circle transform="translate(622.00,572.10) scale(1.2,1)" r="5.00" fill="none" stroke="#111" stroke-width="1.25"/>
<text class="tk" transform="translate(635.80,575.25) scale(1.09,1)" font-size="8.8" fill="#222" text-anchor="start">4.0</text>
<circle transform="translate(622.00,584.70) scale(1.2,1)" r="5.58" fill="none" stroke="#111" stroke-width="1.25"/>
<text class="tk" transform="translate(635.80,587.85) scale(1.09,1)" font-size="8.8" fill="#222" text-anchor="start">4.4</text>
<text transform="translate(12.0,345.9) scale(1.14,1)" font-size="35" fill="#000" stroke="#000" stroke-width="0.5">A</text>
<text transform="translate(15.6,678.7)" font-size="35" fill="#000" stroke="#000" stroke-width="0.5">B</text>
</g>
</svg>
</body></html>
